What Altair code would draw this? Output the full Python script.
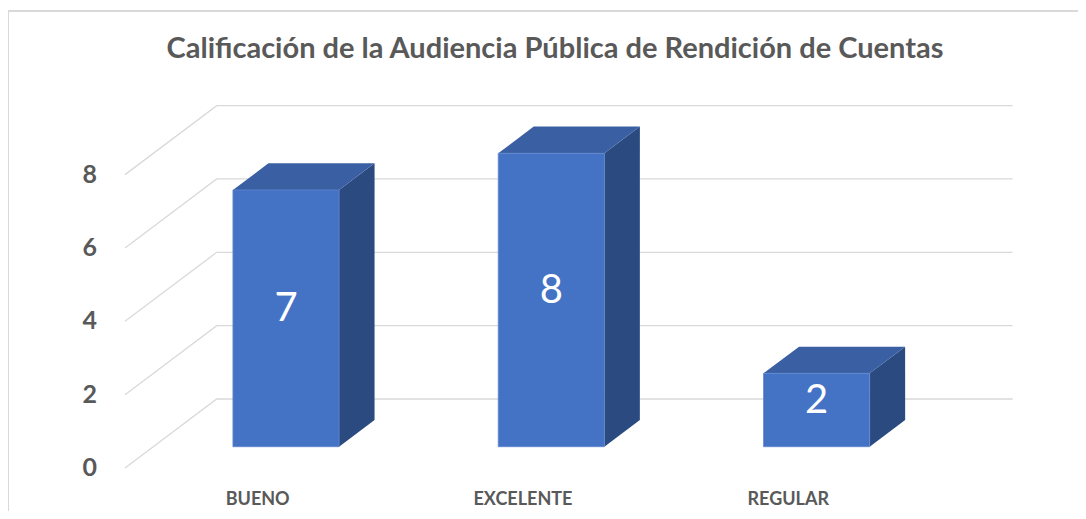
import altair as alt
import pandas as pd

# ---- data ----
categories = ["BUENO", "EXCELENTE", "REGULAR"]
values = [7, 8, 2]
tick_values = [0, 2, 4, 6, 8]
title_text = "Calificación de la Audiencia Pública de Rendición de Cuentas"

# ---- 3D projection parameters (layout) ----
HW = 0.2          # half bar width (category units)
DX = 0.3457       # full depth shift in category units
DY = 1.8814       # full depth shift in value units
T0, T1 = 0.309, 0.696   # bar front / back depth
WALL_L, WALL_R = -0.5, 2.5


def P(xi, v, t):
    return xi + (t - T0) * DX, v + (t - T0) * DY


FRONT = "#4472C4"
TOP = "#3A60A3"
SIDE = "#2B4A80"
GRID = "#D9D9D9"
TXT = "#595959"
FONT = "Lato"

front_rows = []
top_rows = []
side_rows = []
label_rows = []
cat_rows = []
for i, (c, v) in enumerate(zip(categories, values)):
    front_rows.append({"cat": c, "x": i - HW, "x2": i + HW, "y": 0, "y2": v})
    for t in (T0, T1):
        xl, yt = P(i - HW, v, t)
        xr, _ = P(i + HW, v, t)
        top_rows.append({"cat": c, "y": yt, "x": xl, "x2": xr})
        xs_, yb = P(i + HW, 0, t)
        _, ytop = P(i + HW, v, t)
        side_rows.append({"cat": c, "x": xs_, "y": yb, "y2": ytop})
    label_rows.append({"cat": c, "x": i, "y": v / 2 + 0.25, "label": str(v)})
    cx, cy = P(i, 0, 0)
    cat_rows.append({"cat": c, "x": cx, "y": cy})

grid_rows = []
for v in tick_values:
    for k, (xi, t) in enumerate([(WALL_L, 0), (WALL_L, 1), (WALL_R, 1)]):
        gx, gy = P(xi, v, t)
        grid_rows.append({"v": v, "o": k, "x": gx, "y": gy})

tick_rows = []
for v in tick_values:
    tx, ty = P(WALL_L, v, 0)
    tick_rows.append({"x": tx, "y": ty, "label": str(v)})

xs = alt.Scale(domain=[0, 2], range=[278, 808.6], nice=False, zero=False)
ys = alt.Scale(domain=[0, 8], range=[438.7, 145.3], nice=False, zero=False)

X = lambda f="x": alt.X(f"{f}:Q", scale=xs, axis=None)
Y = lambda f="y": alt.Y(f"{f}:Q", scale=ys, axis=None)

grid = alt.Chart(pd.DataFrame(grid_rows)).mark_line(
    color=GRID, strokeWidth=1.3
).encode(x=X(), y=Y(), detail="v:N", order="o:Q")

ticks = alt.Chart(pd.DataFrame(tick_rows)).mark_text(
    font=FONT, fontSize=25, fontWeight="bold", color=TXT,
    align="right", baseline="middle", dx=-28
).encode(x=X(), y=Y(), text="label:N")

side = alt.Chart(pd.DataFrame(side_rows)).mark_area(
    color=SIDE, orient="vertical"
).encode(x=X(), y=Y(), y2="y2:Q", detail="cat:N")

top = alt.Chart(pd.DataFrame(top_rows)).mark_area(
    color=TOP, orient="horizontal"
).encode(y=Y(), x=X(), x2="x2:Q", detail="cat:N")

front = alt.Chart(pd.DataFrame(front_rows)).mark_rect(
    color=FRONT, stroke="#5F87CF", strokeWidth=0.8
).encode(x=X(), x2="x2:Q", y=Y(), y2="y2:Q")

labels = alt.Chart(pd.DataFrame(label_rows)).mark_text(
    font=FONT, fontSize=40, color="white", align="center", baseline="middle"
).encode(x=X(), y=Y(), text="label:N")

cats = alt.Chart(pd.DataFrame(cat_rows)).mark_text(
    font=FONT, fontSize=18, fontWeight="bold", color=TXT,
    align="center", baseline="middle", dy=32
).encode(x=X(), y=Y(), text="cat:N")

title = alt.Chart(pd.DataFrame({"t": [title_text]})).mark_text(
    font=FONT, fontSize=29, fontWeight="bold", color=TXT,
    align="center", baseline="middle"
).encode(x=alt.value(547), y=alt.value(41), text="t:N")

border = alt.Chart(pd.DataFrame({"a": [0]})).mark_rect(
    fill=None, stroke=GRID, strokeWidth=2
).encode(x=alt.value(0), x2=alt.value(1200), y=alt.value(3), y2=alt.value(700))

chart = alt.layer(
    border, grid, ticks, side, top, front, labels, cats, title
).resolve_scale(x="shared", y="shared").properties(
    width=1070, height=503, padding=0,
    autosize=alt.AutoSizeParams(type="none")
).configure_view(stroke=None)

chart.save("out.html", embed_options={"renderer": "svg", "actions": False})
